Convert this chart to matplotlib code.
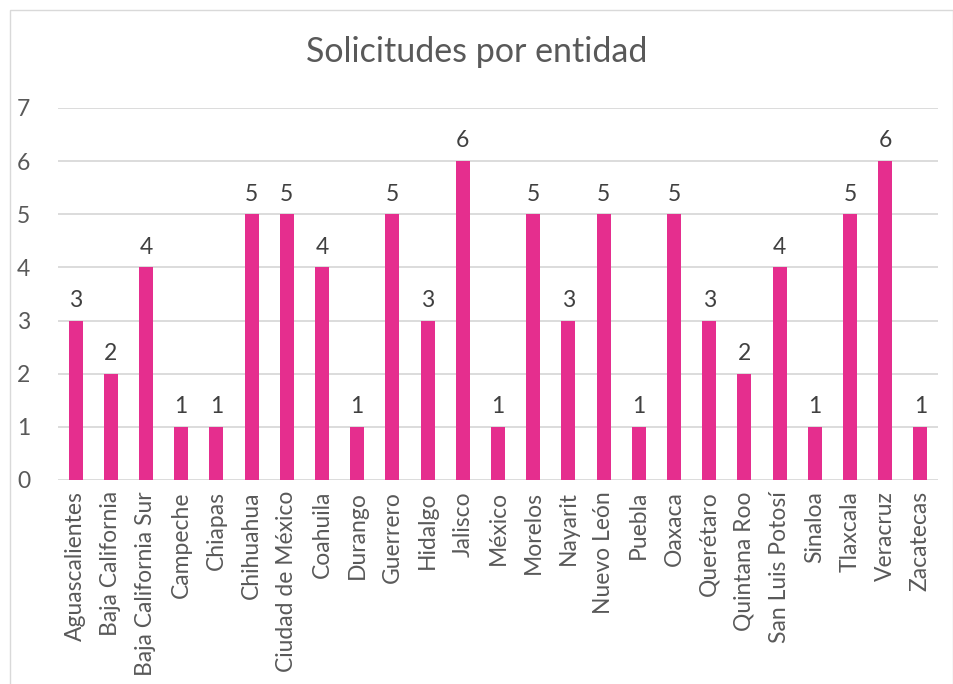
import matplotlib.pyplot as plt
from matplotlib.patches import Rectangle

# data
estados = ["Aguascalientes", "Baja California", "Baja California Sur", "Campeche",
           "Chiapas", "Chihuahua", "Ciudad de México", "Coahuila", "Durango",
           "Guerrero", "Hidalgo", "Jalisco", "México", "Morelos", "Nayarit",
           "Nuevo León", "Puebla", "Oaxaca", "Querétaro", "Quintana Roo",
           "San Luis Potosí", "Sinaloa", "Tlaxcala", "Veracruz", "Zacatecas"]
solicitudes = [3, 2, 4, 1, 1, 5, 5, 4, 1, 5, 3, 6, 1, 5, 3, 5, 1, 5, 3, 2, 4, 1, 5, 6, 1]
yticks = [0, 1, 2, 3, 4, 5, 6, 7]

plt.rcParams['font.family'] = ['Lato', 'DejaVu Sans']

fig = plt.figure(figsize=(9.54, 6.84), dpi=100)
ax = fig.add_axes([58/954, 1 - 480/684, 880/954, (480-108)/684])

x = range(len(estados))
bars = ax.bar(x, solicitudes, width=0.4, color='#E52E8E', zorder=3)

for b, v in zip(bars, solicitudes):
    ax.annotate(str(v), (b.get_x() + b.get_width()/2, v), xytext=(0, 7),
                textcoords='offset points', ha='center', va='bottom',
                fontsize=16.5, color='#404040')

ax.set_xlim(-0.5, len(estados) - 0.5)
ax.set_ylim(0, 7)
ax.set_yticks(yticks)
ax.set_xticks(list(x))
ax.set_xticklabels(estados, rotation=90, fontsize=16.5, color='#595959')
ax.tick_params(axis='y', labelsize=16.5, labelcolor='#595959', length=0, pad=20)
ax.tick_params(axis='x', length=0, pad=8)
ax.grid(axis='y', color='#D9D9D9', linewidth=1.3, zorder=0)
for s in ax.spines.values():
    s.set_visible(False)

fig.suptitle("Solicitudes por entidad", x=0.5, y=1 - 52/684, va='center',
             fontsize=24.5, color='#595959')

fig.patches.append(Rectangle((10/954, -0.1), 943/954, 1.1 - 10/684,
                             transform=fig.transFigure, fill=False,
                             edgecolor='#D9D9D9', linewidth=1))

fig.savefig("out.png", dpi=100)
